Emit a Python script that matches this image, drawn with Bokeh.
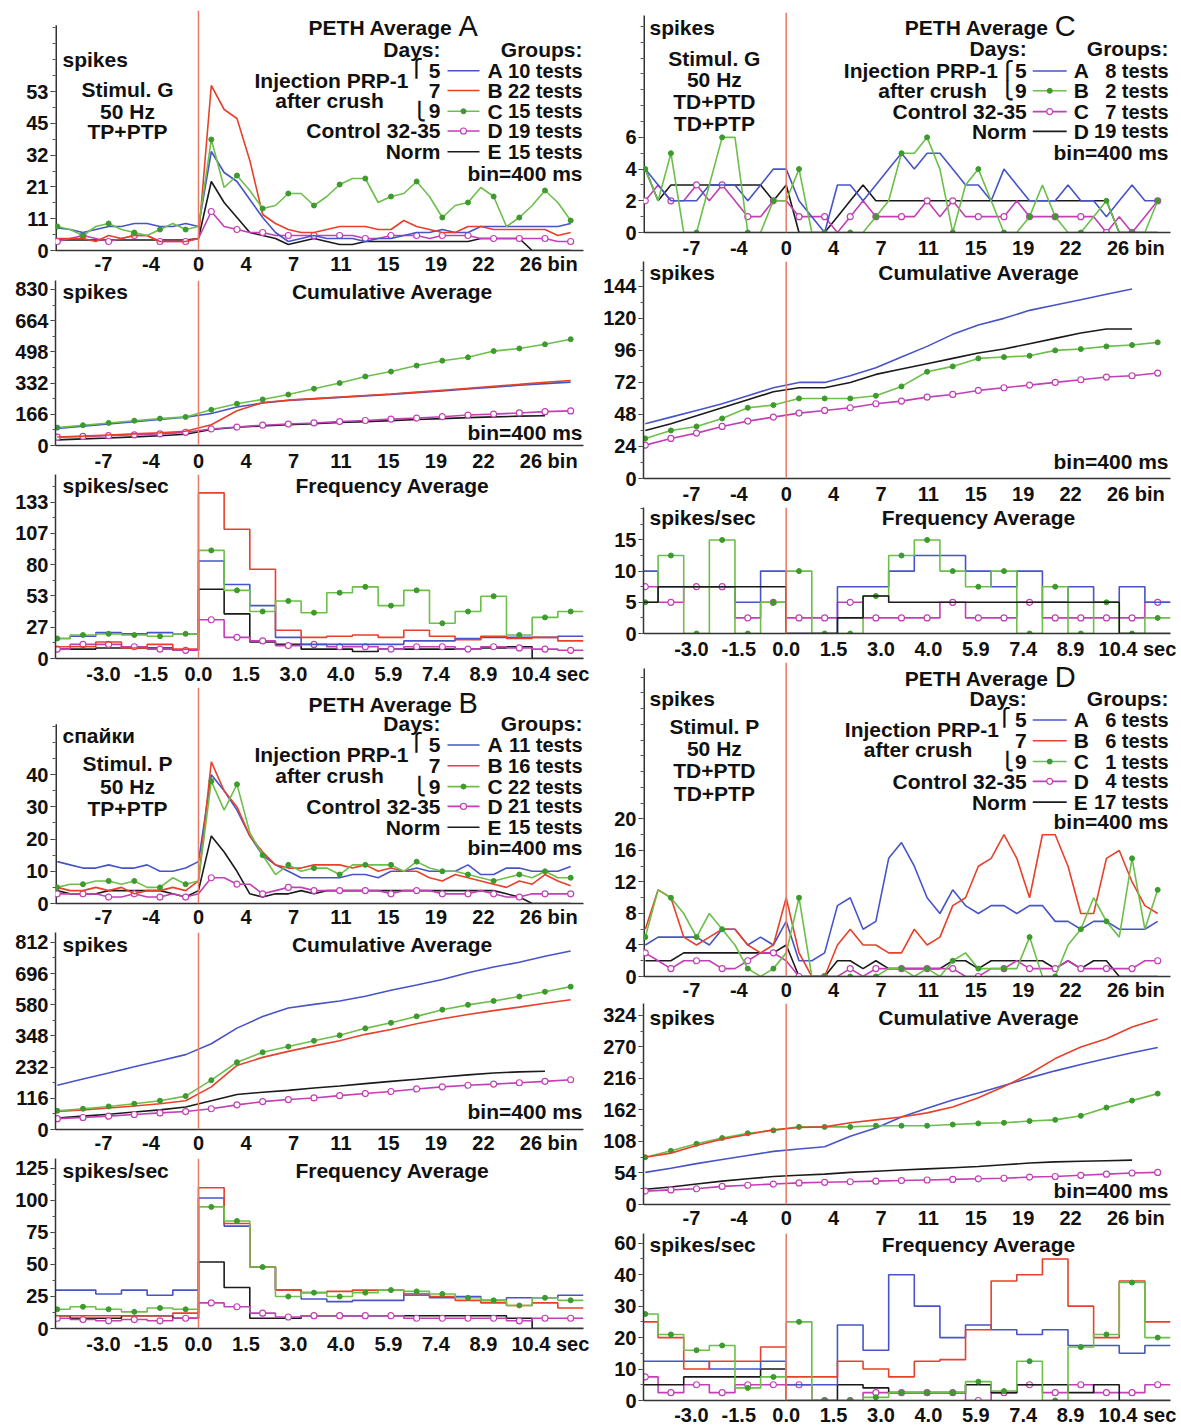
import numpy as np
from bokeh.plotting import figure
from bokeh.layouts import row, column
from bokeh.models import Span, Label, FixedTicker, Range1d
from bokeh.embed import file_html
from bokeh.resources import INLINE

FONT = "Liberation Sans"
BLUE = "#4654c8"
RED = "#e8402a"
GREEN = "#6cbf4a"
GREEN_DOT = "#3d9a2c"
MAGENTA = "#c23fb5"
BLACK = "#1a1a1a"
ZERO = "#e87a66"
LW = 1.6

# ---------------- axes / categories ----------------
PETH_BINS = list(range(-11, 30))          # one point per 400 ms bin
CUM_BINS = list(range(-11, 30, 2))        # cumulative curves sampled every 2 bins
FREQ_EDGES = list(range(-12, 31, 2))      # frequency steps, 2 bins wide
X_TICKS = [-7.4, -3.7, 0.0, 3.7, 7.4, 11.1, 14.8, 18.5, 22.2, 25.9]
BIN_LABELS = ["-7", "-4", "0", "4", "7", "11", "15", "19", "22", "26 bin"]
SEC_LABELS = ["-3.0", "-1.5", "0.0", "1.5", "3.0", "4.0", "5.9", "7.4", "8.9", "10.4 sec"]
# the unit word is part of the last label: shift that label so its number stays on the tick
UNIT_SHIFT = {"bin": 1.39, "sec": 1.52}

# ---------------- Panel A ----------------
A_PETH_BLUE = [7.5, 7, 6, 7, 8, 8, 9, 9, 8, 8, 9, 8,
               33, 26, 23, 17, 11, 6, 3, 4, 5, 4, 4, 4, 3, 4, 4, 5, 6, 6, 7, 6, 6, 8, 8, 8, 8, 8, 8, 8, 9]
A_PETH_RED = [4, 4, 4, 3, 5, 4, 5, 5, 3, 3, 3, 4,
              55, 47, 44, 30, 12, 9, 7, 6, 6, 7, 8, 8, 8, 7, 7, 10, 8, 7, 6, 6, 8, 8, 7, 7, 7, 7, 7, 5, 6]
A_PETH_GREEN = [8, 7, 5, 8, 9, 7, 6, 5, 7, 9, 7, 8,
                37, 21, 25, 20, 14, 15, 19, 19, 15, 18, 22, 24, 24, 16, 18, 19, 23, 18, 11, 15, 16, 21, 18, 8, 11, 15, 20, 16, 10]
A_PETH_MAGENTA = [3, 4, 5, 4, 3, 4, 5, 5, 3, 3, 3, 4,
                  13, 8, 7, 6, 6, 5, 5, 5, 5, 5, 5, 5, 4, 4, 5, 5, 5, 4, 5, 5, 5, 4, 4, 4, 4, 4, 4, 3, 3]
A_PETH_BLACK = [3.5, 3.5, 3.5, 3.5, 3.5, 3.5, 3.5, 3.5, 3.5, 3.5, 3.5, 4,
                23, 16, 11, 6, 5, 4, 2, 3, 4, 3, 2, 2, 3, 3, 3, 3, 3, 3, 3, 3, 3, 4, 4, 4, 4, 0, 0, 0, 0]

A_CUM_BLUE = [90, 103, 115, 127, 139, 150, 170, 205, 226, 240, 248, 256, 264, 272, 281, 290, 300, 310, 320, 329, 337]
A_CUM_RED = [45, 50, 56, 62, 68, 76, 110, 185, 228, 241, 249, 257, 266, 274, 284, 294, 304, 315, 325, 336, 346]
A_CUM_GREEN = [95, 108, 120, 132, 143, 152, 190, 222, 245, 271, 302, 332, 367, 393, 425, 451, 469, 502, 516, 538, 565]
A_CUM_MAGENTA = [44, 48, 52, 57, 62, 70, 88, 98, 108, 114, 120, 127, 133, 140, 146, 153, 162, 167, 173, 180, 184]
A_CUM_BLACK = [30, 35, 40, 46, 52, 60, 85, 97, 104, 110, 116, 122, 127, 132, 138, 143, 148, 152, 156, 158, np.nan]

A_FREQ_BLUE = [17, 19, 22, 21, 22, 21, 83, 63, 45, 18, 12, 12, 12, 12, 15, 15, 17, 18, 18, 18, 19]
A_FREQ_RED = [10, 10, 14, 9, 12, 8, 141, 110, 76, 24, 18, 19, 20, 18, 24, 19, 16, 19, 17, 18, 15]
A_FREQ_GREEN = [17, 20, 21, 20, 19, 21, 92, 58, 40, 49, 39, 56, 61, 45, 58, 30, 40, 53, 20, 35, 40]
A_FREQ_MAGENTA = [8, 12, 12, 10, 8, 7, 33, 18, 15, 11, 12, 10, 10, 8, 10, 10, 8, 10, 9, 8, 7]
A_FREQ_BLACK = [8, 8, 9, 9, 9, 7, 59, 38, 14, 12, 8, 8, 6, 8, 8, 8, 8, 9, 10, 0, 0]

# ---------------- Panel B ----------------
B_PETH_BLUE = [13, 12, 11, 11, 12, 11, 11, 12, 10, 10, 11, 13,
               40, 35, 29, 21, 15, 12, 10, 8, 8, 8, 8, 9, 9, 8, 10, 10, 11, 10, 10, 10, 12, 9, 9, 11, 11, 10, 10, 10, 11.5]
B_PETH_RED = [5, 4, 4, 5, 4, 5, 3, 4, 4, 5, 4, 7,
              44, 35, 30, 21, 16, 12, 11, 11, 12, 12, 12, 11, 12, 10, 11, 10, 10, 8, 7, 9, 8, 7, 6, 5, 7, 6, 9, 7, 5.5]
B_PETH_GREEN = [5, 6, 6, 7, 7, 6, 7, 5, 5, 8, 6, 7,
                38, 29, 37, 22, 15, 9, 12, 10, 11, 11, 9, 12, 12, 12, 12, 10, 13, 11, 10, 10, 9, 8, 7, 8, 9, 8, 10, 8, 8]
B_PETH_MAGENTA = [3, 3, 3, 3, 2, 2, 3, 2, 2, 3, 2, 3,
                  8, 8, 6, 6, 3, 4, 5, 5, 4, 4, 4, 4, 4, 4, 3, 4, 4, 4, 3, 3, 3, 4, 3, 2, 2, 3, 3, 3, 3]
B_PETH_BLACK = [4, 3, 3, 3, 4, 4, 4, 4, 4, 3, 2, 4,
                21, 16, 10, 3, 2, 3, 3, 4, 3, 4, 4, 4, 4, 4, 4, 4, 4, 4, 4, 4, 4, 4, 4, 3, 2, 0, 0, 0, 0]

B_CUM_BLUE = [192, 219, 245, 272, 298, 325, 372, 440, 490, 527, 543, 558, 578, 604, 627, 651, 680, 705, 726, 752, 775]
B_CUM_RED = [78, 85, 93, 102, 112, 125, 185, 278, 313, 339, 363, 385, 413, 434, 459, 481, 499, 516, 531, 548, 563]
B_CUM_GREEN = [81, 90, 100, 112, 125, 145, 214, 292, 335, 360, 385, 409, 439, 463, 491, 520, 541, 558, 577, 598, 620]
B_CUM_MAGENTA = [47, 52, 58, 65, 72, 78, 90, 107, 121, 130, 137, 147, 156, 165, 176, 185, 192, 197, 203, 209, 216]
B_CUM_BLACK = [50, 58, 66, 76, 85, 98, 125, 152, 162, 170, 180, 189, 199, 209, 218, 228, 237, 245, 250, 253, np.nan]

B_FREQ_BLUE = [30, 30, 27, 30, 26, 30, 102, 80, 48, 30, 23, 21, 22, 22, 27, 24, 25, 22, 24, 24, 26]
B_FREQ_RED = [10, 10, 10, 10, 10, 12, 110, 82, 48, 30, 28, 29, 30, 30, 26, 25, 22, 20, 18, 20, 16]
B_FREQ_GREEN = [15, 17, 15, 13, 16, 15, 95, 84, 48, 25, 28, 25, 28, 30, 29, 27, 24, 22, 18, 24, 22]
B_FREQ_MAGENTA = [8, 7, 6, 7, 6, 8, 20, 17, 12, 9, 10, 10, 10, 10, 8, 8, 8, 8, 6, 8, 8]
B_FREQ_BLACK = [10, 8, 8, 10, 10, 8, 52, 32, 8, 8, 10, 10, 10, 10, 10, 10, 10, 10, 8, 0, 0]

# ---------------- Panel C ----------------
C_PETH_BLUE = [4, 3, 2, 2, 2, 3, 3, 3, 2, 3, 4, 4,
               2, 1, 0, 3, 3, 2, 3, 4, 5, 4, 5, 5, 4, 3, 3, 2, 4, 3, 2, 2, 2, 3, 2, 2, 1, 2, 3, 2, 2]
C_PETH_GREEN = [4, 2, 5, 0, 0, 3, 6, 6, 0, 0, 2, 2,
                4, 0, 0, 0, 0, 0, 1, 2, 5, 5, 6, 4, 0, 3, 4, 2, 0, 0, 1, 3, 1, 0, 0, 1, 2, 0, 0, 0, 2]
C_PETH_MAGENTA = [2, 3, 2, 2, 3, 2, 3, 2, 1, 1, 2, 2,
                  1, 1, 1, 0, 1, 2, 1, 1, 1, 1, 2, 1, 2, 1, 1, 1, 1, 2, 1, 1, 1, 1, 1, 1, 0, 1, 0, 1, 2]
C_PETH_BLACK = [4, 2, 3, 3, 3, 3, 3, 3, 3, 3, 2, 3,
                0, 0, 0, 1, 2, 3, 2, 2, 2, 2, 2, 2, 2, 2, 2, 2, 2, 2, 2, 2, 2, 2, 2, 2, 2, 0, 0, 0, 0]

C_CUM_BLUE = [41, 46, 51, 56, 62, 68, 72, 72, 77, 83, 91, 99, 108, 115, 120, 126, 130, 134, 138, 142, np.nan]
C_CUM_GREEN = [30, 36, 39, 45, 53, 55, 60, 60, 60, 62, 69, 80, 84, 90, 91, 92, 96, 97, 99, 100, 102]
C_CUM_MAGENTA = [25, 30, 34, 39, 43, 46, 49, 51, 53, 56, 58, 61, 63, 66, 68, 70, 72, 74, 76, 77, 79]
C_CUM_BLACK = [36, 41, 47, 53, 59, 65, 68, 68, 72, 78, 82, 86, 90, 94, 97, 101, 105, 109, 112, 112, np.nan]

C_FREQ_BLUE = [10, 7.5, 7.5, 7.5, 5, 10, 0, 0, 7.5, 7.5, 10, 12.5, 12.5, 10, 7.5, 10, 5, 7.5, 5, 7.5, 5]
C_FREQ_GREEN = [5, 12.5, 0, 15, 0, 5, 10, 0, 0, 6, 12.5, 15, 10, 7.5, 10, 0, 7.5, 0, 5, 0, 2.5]
C_FREQ_MAGENTA = [7.5, 5, 7.5, 7.5, 2.5, 5, 2.5, 2.5, 5, 2.5, 2.5, 2.5, 5, 2.5, 2.5, 5, 2.5, 2.5, 2.5, 2.5, 5]
C_FREQ_BLACK = [5, 7.5, 7.5, 7.5, 7.5, 7.5, 0, 0, 2.5, 6, 5, 5, 5, 5, 5, 5, 5, 5, 5, 0, 0]

# ---------------- Panel D ----------------
D_PETH_BLUE = [4, 5, 5, 5, 5, 4, 6, 6, 4, 5, 4, 7,
               2, 2, 3, 9, 10, 6, 7, 15, 17, 14, 10, 8, 11, 9, 8, 9, 9, 8, 9, 9, 7, 7, 6, 7, 7, 6, 6, 6, 7]
D_PETH_RED = [6, 11, 10, 5, 4, 5, 6, 6, 4, 3, 4, 10,
              3, 0, 0, 4, 6, 4, 4, 3, 3, 6, 4, 5, 9, 10, 14, 15, 18, 15, 10, 18, 18, 14, 8, 8, 15, 16, 12, 9, 8]
D_PETH_GREEN = [5, 11, 10, 8, 5, 8, 6, 4, 1, 0, 1, 3,
                10, 0, 0, 0, 0, 0, 0, 1, 1, 0, 1, 0, 2, 3, 1, 1, 1, 1, 5, 0, 0, 4, 6, 10, 7, 5, 15, 6, 11]
D_PETH_MAGENTA = [3, 2, 1, 2, 2, 2, 1, 1, 2, 3, 3, 2,
                  0, 0, 0, 0, 1, 0, 1, 1, 1, 1, 1, 1, 1, 0, 0, 1, 1, 2, 1, 1, 1, 2, 1, 1, 1, 1, 1, 2, 2]
D_PETH_BLACK = [2, 2, 2, 3, 3, 3, 3, 3, 3, 3, 3, 4,
                0, 0, 0, 2, 2, 1, 2, 1, 1, 1, 1, 1, 2, 2, 1, 2, 2, 2, 2, 2, 1, 2, 1, 2, 2, 0, 0, 0, 0]

D_CUM_BLUE = [55, 62, 70, 77, 84, 91, 95, 99, 117, 131, 150, 165, 179, 191, 204, 217, 229, 240, 250, 260, 269]
D_CUM_RED = [81, 88, 101, 112, 120, 128, 132, 133, 140, 145, 150, 157, 167, 183, 202, 224, 250, 270, 284, 304, 318]
D_CUM_GREEN = [81, 92, 104, 114, 122, 127, 133, 133, 133, 135, 135, 135, 137, 139, 140, 143, 145, 152, 166, 178, 190]
D_CUM_MAGENTA = [23, 25, 27, 31, 33, 35, 37, 38, 39, 40, 41, 42, 43, 44, 45, 47, 48, 50, 52, 54, 55]
D_CUM_BLACK = [26, 30, 35, 40, 44, 48, 50, 52, 55, 57, 59, 61, 63, 65, 68, 71, 73, 74, 75, 76, np.nan]

D_FREQ_BLUE = [12.5, 12.5, 12.5, 10, 10, 12.5, 5, 5, 24, 16, 40, 30, 20, 24, 22.5, 21, 22.5, 17.5, 17.5, 15, 17.5]
D_FREQ_RED = [25, 20, 10, 12.5, 12.5, 17, 7.5, 7.5, 12.5, 10, 7.5, 12.5, 13, 22.5, 38, 40, 45, 30, 20, 38, 25]
D_FREQ_GREEN = [27.5, 21, 16, 17.5, 4, 7.5, 25, 0, 0, 1, 2.5, 2.5, 2.5, 6, 3, 12.5, 0, 17, 21, 37.5, 20]
D_FREQ_MAGENTA = [7.5, 2.5, 5, 2.5, 5, 5, 5, 0, 0, 2.5, 2.5, 2.5, 2.5, 0, 2.5, 5, 2.5, 5, 2.5, 2.5, 5]
D_FREQ_BLACK = [5, 5, 7.5, 7.5, 7.5, 10, 0, 0, 5, 4, 2.5, 2.5, 2.5, 5, 2.5, 5, 5, 2.5, 5, 0, 0]

# y tick labels (as printed on the original axes)
A_PETH_YLABELS = ["0", "11", "21", "32", "45", "53"]
A_CUM_YLABELS = ["0", "166", "332", "498", "664", "830"]
A_FREQ_YLABELS = ["0", "27", "53", "80", "107", "133"]
B_PETH_YLABELS = ["0", "10", "20", "30", "40"]
B_CUM_YLABELS = ["0", "116", "232", "348", "580", "696", "812"]
B_FREQ_YLABELS = ["0", "25", "50", "75", "100", "125"]
C_PETH_YLABELS = ["0", "2", "4", "6"]
C_CUM_YLABELS = ["0", "24", "48", "72", "96", "120", "144"]
C_FREQ_YLABELS = ["0", "5", "10", "15"]
D_PETH_YLABELS = ["0", "4", "8", "12", "16", "20"]
D_CUM_YLABELS = ["0", "54", "108", "162", "216", "270", "324"]
D_FREQ_YLABELS = ["0", "10", "20", "30", "40", "60"]

# ---------------- layout constants ----------------
XMIN, XMAX = -11.14, 30.0
FRAME_W = 528
LEFT = dict(x0=0, width=600, bl=55, br=17)
RIGHT = dict(x0=600, width=581, bl=42, br=11)


def conv(g, px, py):
    x = XMIN + (px - g["fl"]) / FRAME_W * (XMAX - XMIN)
    y = (g["fb"] - py) / g["fh"] * g["ymax"]
    return x, y


def txt(p, g, px, py, text, align="left", size="21px", style="bold", baseline="middle"):
    x, y = conv(g, px, py)
    p.add_layout(Label(x=x, y=y, text=text, text_align=align, text_baseline=baseline,
                       text_font=FONT, text_font_size=size, text_font_style=style,
                       text_color="#111111"))


def make_fig(col, top, height, bt, bb, ymax, yticks, ylabels, unit, axis_top=None, standoff=4):
    p = figure(width=col["width"], height=height, x_range=Range1d(XMIN, XMAX),
               y_range=Range1d(0, ymax), output_backend="svg", toolbar_location=None,
               min_border_left=col["bl"], min_border_right=col["br"],
               min_border_top=bt, min_border_bottom=bb)
    p.outline_line_color = None
    p.xgrid.visible = False
    p.ygrid.visible = False
    p.background_fill_color = "white"
    p.border_fill_color = "white"
    g = dict(fl=col["x0"] + col["bl"], fb=top + height - bb, fh=height - bt - bb, ymax=ymax)
    ytop = ymax if axis_top is None else conv(g, 0, axis_top)[1]
    step = yticks[1] - yticks[0]
    minor = [step / 2 * k for k in range(int(ytop / (step / 2)) + 1)]
    p.yaxis.ticker = FixedTicker(ticks=yticks, minor_ticks=minor)
    p.yaxis.major_label_overrides = {t: l for t, l in zip(yticks, ylabels)}
    xticks = X_TICKS[:-1] + [X_TICKS[-1] + UNIT_SHIFT[unit]]
    xlabels = BIN_LABELS if unit == "bin" else SEC_LABELS
    p.xaxis.ticker = FixedTicker(ticks=xticks)
    p.xaxis.major_label_overrides = {t: l for t, l in zip(xticks, xlabels)}
    for ax in (p.xaxis, p.yaxis):
        ax.axis_line_color = "#333333"
        ax.axis_line_width = 1.5
        ax.major_label_text_font = FONT
        ax.major_label_text_font_style = "bold"
        ax.major_label_text_font_size = "20px"
        ax.major_label_text_color = "#111111"
        ax.major_tick_in = 0
        ax.minor_tick_in = 0
        ax.major_tick_line_color = "#333333"
        ax.minor_tick_line_color = "#555555"
    p.xaxis.major_tick_out = 0
    p.xaxis.minor_tick_out = 0
    p.xaxis.major_label_standoff = standoff
    p.yaxis.major_tick_out = 5
    p.yaxis.minor_tick_out = 3
    p.yaxis.major_label_standoff = 2
    if axis_top is not None:
        # the original's y axis line stops below the panel title
        p.yaxis.axis_line_color = None
        p.segment(x0=[XMIN], y0=[0], x1=[XMIN], y1=[ytop], line_color="#333333", line_width=3)
    p.add_layout(Span(location=0, dimension="height", line_color=ZERO, line_width=1.5))
    return p, g


def marks(p, xs, ys, mk, color):
    if mk == "dot":
        p.scatter(xs, ys, marker="circle", size=5, fill_color=GREEN_DOT, line_color=GREEN_DOT)
    elif mk == "ring":
        p.scatter(xs, ys, marker="circle", size=6, fill_color="white", line_color=color, line_width=1.2)


def draw_peth(p, series):
    for vals, color, mk in series:
        v = np.array(vals, dtype=float)
        p.line(PETH_BINS, v, line_color=color, line_width=LW)
        if mk:
            marks(p, PETH_BINS[::2], v[::2], mk, color)


def draw_cum(p, series):
    for vals, color, mk in series:
        v = np.array(vals, dtype=float)
        p.line(CUM_BINS, v, line_color=color, line_width=LW)
        if mk:
            marks(p, CUM_BINS, v, mk, color)


def draw_freq(p, series):
    for vals, color, mk in series:
        v = list(vals) + [vals[-1]]
        p.step(FREQ_EDGES, v, mode="after", line_color=color, line_width=LW)
        if mk:
            marks(p, CUM_BINS, np.array(vals, dtype=float), mk, color)


def legend(p, g, rows_y, styles, letters, counts, x_line0, x_line1, x_letter, x_count):
    for y, (color, mk), let, cnt in zip(rows_y, styles, letters, counts):
        x0, yy = conv(g, x_line0, y)
        x1, _ = conv(g, x_line1, y)
        p.segment(x0=[x0], y0=[yy], x1=[x1], y1=[yy], line_color=color, line_width=LW)
        if mk:
            marks(p, [(x0 + x1) / 2], [yy], mk, color)
        txt(p, g, x_letter, y, let, "left")
        txt(p, g, x_count, y, cnt, "right", size="20px")


STY5 = [(BLUE, None), (RED, None), (GREEN, "dot"), (MAGENTA, "ring"), (BLACK, None)]
STY4 = [(BLUE, None), (GREEN, "dot"), (MAGENTA, "ring"), (BLACK, None)]

# ======================= LEFT COLUMN =======================
# ---- A: PETH ----
pA1, g = make_fig(LEFT, 0, 277, 10, 24, 80.0, [k * 10.6 for k in range(6)], A_PETH_YLABELS, "bin",
                  axis_top=25, standoff=2)
draw_peth(pA1, [(A_PETH_BLACK, BLACK, None), (A_PETH_MAGENTA, MAGENTA, "ring"), (A_PETH_BLUE, BLUE, None),
                (A_PETH_RED, RED, None), (A_PETH_GREEN, GREEN, "dot")])
txt(pA1, g, 62, 60, "spikes")
for yy, t in zip([90, 112, 133], ["Stimul. G", "50 Hz", "TP+PTP"]):
    txt(pA1, g, 127, yy, t, "center")
txt(pA1, g, 452, 27, "PETH Average", "right")
txt(pA1, g, 458, 26, "A", "left", size="29px", style="normal")
txt(pA1, g, 440, 49, "Days:", "right")
txt(pA1, g, 582, 49, "Groups:", "right")
rows = [71, 91, 112, 132, 153]
for yy, t in zip(rows, ["5", "7", "9", "Control 32-35", "Norm"]):
    txt(pA1, g, 440, yy, t, "right")
txt(pA1, g, 416, rows[0] - 2, "⎧", "center", size="17px")
txt(pA1, g, 419, rows[2], "⎩", "center", size="17px")
txt(pA1, g, 408, 81, "Injection PRP-1", "right")
txt(pA1, g, 329, 101, "after crush", "center")
legend(pA1, g, rows, STY5, ["A", "B", "C", "D", "E"], ["10 tests", "22 tests", "15 tests", "19 tests", "15 tests"],
       447, 479, 487, 582)
txt(pA1, g, 582, 175, "bin=400 ms", "right")

# ---- A: cumulative ----
pA2, g = make_fig(LEFT, 277, 197, 3, 27, 877.3, [k * 166 for k in range(6)], A_CUM_YLABELS, "bin")
draw_cum(pA2, [(A_CUM_BLACK, BLACK, None), (A_CUM_MAGENTA, MAGENTA, "ring"), (A_CUM_BLUE, BLUE, None),
               (A_CUM_RED, RED, None), (A_CUM_GREEN, GREEN, "dot")])
txt(pA2, g, 62, 291, "spikes")
txt(pA2, g, 392, 291, "Cumulative Average", "center")
txt(pA2, g, 582, 434, "bin=400 ms", "right")

# ---- A: frequency ----
pA3, g = make_fig(LEFT, 474, 213, 0, 27, 156.6, [k * 26.6 for k in range(6)], A_FREQ_YLABELS, "sec")
draw_freq(pA3, [(A_FREQ_BLACK, BLACK, None), (A_FREQ_MAGENTA, MAGENTA, "ring"), (A_FREQ_BLUE, BLUE, None),
                (A_FREQ_RED, RED, None), (A_FREQ_GREEN, GREEN, "dot")])
txt(pA3, g, 62, 485, "spikes/sec")
txt(pA3, g, 392, 485, "Frequency Average", "center")

# ---- B: PETH ----
pB1, g = make_fig(LEFT, 687, 243, 0, 25, 67.08, [0, 10, 20, 30, 40], B_PETH_YLABELS, "bin",
                  axis_top=724, standoff=2)
draw_peth(pB1, [(B_PETH_BLACK, BLACK, None), (B_PETH_MAGENTA, MAGENTA, "ring"), (B_PETH_BLUE, BLUE, None),
                (B_PETH_RED, RED, None), (B_PETH_GREEN, GREEN, "dot")])
txt(pB1, g, 62, 735, "спайки")
for yy, t in zip([764, 787, 809], ["Stimul. P", "50 Hz", "TP+PTP"]):
    txt(pB1, g, 127, yy, t, "center")
txt(pB1, g, 452, 704, "PETH Average", "right")
txt(pB1, g, 458, 703, "B", "left", size="29px", style="normal")
txt(pB1, g, 440, 723, "Days:", "right")
txt(pB1, g, 582, 723, "Groups:", "right")
rows = [745, 766, 787, 807, 828]
for yy, t in zip(rows, ["5", "7", "9", "Control 32-35", "Norm"]):
    txt(pB1, g, 440, yy, t, "right")
txt(pB1, g, 416, rows[0] - 2, "⎧", "center", size="17px")
txt(pB1, g, 419, rows[2], "⎩", "center", size="17px")
txt(pB1, g, 408, 755, "Injection PRP-1", "right")
txt(pB1, g, 329, 776, "after crush", "center")
legend(pB1, g, rows, STY5, ["A", "B", "C", "D", "E"], ["11 tests", "16 tests", "22 tests", "21 tests", "15 tests"],
       447, 479, 487, 582)
txt(pB1, g, 582, 848, "bin=400 ms", "right")

# ---- B: cumulative ----
pB2, g = make_fig(LEFT, 930, 226, 2, 25, 855.0, [k * 812 / 6 for k in range(7)], B_CUM_YLABELS, "bin",
                  standoff=2)
draw_cum(pB2, [(B_CUM_BLACK, BLACK, None), (B_CUM_MAGENTA, MAGENTA, "ring"), (B_CUM_BLUE, BLUE, None),
               (B_CUM_RED, RED, None), (B_CUM_GREEN, GREEN, "dot")])
txt(pB2, g, 62, 944, "spikes")
txt(pB2, g, 392, 944, "Cumulative Average", "center")
txt(pB2, g, 582, 1113, "bin=400 ms", "right")

# ---- B: frequency ----
pB3, g = make_fig(LEFT, 1156, 272, 2, 100, 132.8, [0, 25, 50, 75, 100, 125], B_FREQ_YLABELS, "sec")
draw_freq(pB3, [(B_FREQ_BLACK, BLACK, None), (B_FREQ_MAGENTA, MAGENTA, "ring"), (B_FREQ_BLUE, BLUE, None),
                (B_FREQ_RED, RED, None), (B_FREQ_GREEN, GREEN, "dot")])
txt(pB3, g, 62, 1170, "spikes/sec")
txt(pB3, g, 392, 1170, "Frequency Average", "center")

# ======================= RIGHT COLUMN =======================
# ---- C: PETH ----
pC1, g = make_fig(RIGHT, 0, 261, 12, 27, 13.875, [0, 2, 4, 6], C_PETH_YLABELS, "bin", axis_top=15)
draw_peth(pC1, [(C_PETH_BLACK, BLACK, None), (C_PETH_MAGENTA, MAGENTA, "ring"), (C_PETH_BLUE, BLUE, None),
                (C_PETH_GREEN, GREEN, "dot")])
txt(pC1, g, 648, 27, "spikes")
for yy, t in zip([58, 80, 102, 124], ["Stimul. G", "50 Hz", "TD+PTD", "TD+PTP"]):
    txt(pC1, g, 713, yy, t, "center")
txt(pC1, g, 1048, 27, "PETH Average", "right")
txt(pC1, g, 1054, 26, "C", "left", size="29px", style="normal")
txt(pC1, g, 1026, 48, "Days:", "right")
txt(pC1, g, 1168, 48, "Groups:", "right")
rows = [71, 91, 112, 132]
txt(pC1, g, 997, rows[0], "Injection PRP-1", "right")
txt(pC1, g, 1007, rows[0], "⎧", "center", size="17px")
txt(pC1, g, 1026, rows[0], "5", "right")
txt(pC1, g, 986, rows[1], "after crush", "right")
txt(pC1, g, 1007, rows[1], "⎩", "center", size="17px")
txt(pC1, g, 1026, rows[1], "9", "right")
txt(pC1, g, 1026, rows[2], "Control 32-35", "right")
txt(pC1, g, 1026, rows[3], "Norm", "right")
legend(pC1, g, rows, STY4, ["A", "B", "C", "D"], ["8 tests", "2 tests", "7 tests", "19 tests"],
       1032, 1066, 1073, 1168)
txt(pC1, g, 1168, 153, "bin=400 ms", "right")

# ---- C: cumulative ----
pC2, g = make_fig(RIGHT, 261, 246, 0, 27, 162.6, [0, 24, 48, 72, 96, 120, 144], C_CUM_YLABELS, "bin")
draw_cum(pC2, [(C_CUM_MAGENTA, MAGENTA, "ring"), (C_CUM_GREEN, GREEN, "dot"), (C_CUM_BLACK, BLACK, None),
               (C_CUM_BLUE, BLUE, None)])
txt(pC2, g, 648, 272, "spikes")
txt(pC2, g, 978, 272, "Cumulative Average", "center")
txt(pC2, g, 1168, 463, "bin=400 ms", "right")

# ---- C: frequency ----
pC3, g = make_fig(RIGHT, 507, 155, 0, 27, 20.2, [0, 5, 10, 15], C_FREQ_YLABELS, "sec")
draw_freq(pC3, [(C_FREQ_MAGENTA, MAGENTA, "ring"), (C_FREQ_BLUE, BLUE, None), (C_FREQ_GREEN, GREEN, "dot"),
                (C_FREQ_BLACK, BLACK, None)])
txt(pC3, g, 648, 517, "spikes/sec")
txt(pC3, g, 978, 517, "Frequency Average", "center")

# ---- D: PETH ----
pD1, g = make_fig(RIGHT, 662, 341, 0, 24, 39.87, [0, 4, 8, 12, 16, 20], D_PETH_YLABELS, "bin",
                  axis_top=668, standoff=2)
draw_peth(pD1, [(D_PETH_BLACK, BLACK, None), (D_PETH_MAGENTA, MAGENTA, "ring"), (D_PETH_BLUE, BLUE, None),
                (D_PETH_RED, RED, None), (D_PETH_GREEN, GREEN, "dot")])
txt(pD1, g, 1048, 678, "PETH Average", "right")
txt(pD1, g, 1054, 677, "D", "left", size="29px", style="normal")
txt(pD1, g, 648, 698, "spikes")
for yy, t in zip([727, 749, 771, 794], ["Stimul. P", "50 Hz", "TD+PTD", "TD+PTP"]):
    txt(pD1, g, 713, yy, t, "center")
txt(pD1, g, 1026, 698, "Days:", "right")
txt(pD1, g, 1168, 698, "Groups:", "right")
rows = [720, 741, 762, 782, 803]
for yy, t in zip(rows, ["5", "7", "9", "Control 32-35", "Norm"]):
    txt(pD1, g, 1026, yy, t, "right")
txt(pD1, g, 1004, rows[0] - 2, "⎧", "center", size="17px")
txt(pD1, g, 1007, rows[2], "⎩", "center", size="17px")
txt(pD1, g, 998, 730, "Injection PRP-1", "right")
txt(pD1, g, 917, 750, "after crush", "center")
legend(pD1, g, rows, STY5, ["A", "B", "C", "D", "E"], ["6 tests", "6 tests", "1 tests", "4 tests", "17 tests"],
       1032, 1066, 1073, 1168)
txt(pD1, g, 1168, 823, "bin=400 ms", "right")

# ---- D: cumulative ----
pD2, g = make_fig(RIGHT, 1003, 228, 0, 25, 344.4, [0, 54, 108, 162, 216, 270, 324], D_CUM_YLABELS, "bin",
                  standoff=2)
draw_cum(pD2, [(D_CUM_BLACK, BLACK, None), (D_CUM_MAGENTA, MAGENTA, "ring"), (D_CUM_BLUE, BLUE, None),
               (D_CUM_GREEN, GREEN, "dot"), (D_CUM_RED, RED, None)])
txt(pD2, g, 648, 1017, "spikes")
txt(pD2, g, 978, 1017, "Cumulative Average", "center")
txt(pD2, g, 1168, 1192, "bin=400 ms", "right")

# ---- D: frequency ----
pD3, g = make_fig(RIGHT, 1231, 197, 2, 26, 53.1, [0, 10, 20, 30, 40, 50], D_FREQ_YLABELS, "sec", standoff=3)
draw_freq(pD3, [(D_FREQ_MAGENTA, MAGENTA, "ring"), (D_FREQ_BLACK, BLACK, None), (D_FREQ_BLUE, BLUE, None),
                (D_FREQ_RED, RED, None), (D_FREQ_GREEN, GREEN, "dot")])
txt(pD3, g, 648, 1244, "spikes/sec")
txt(pD3, g, 978, 1244, "Frequency Average", "center")

left = column(pA1, pA2, pA3, pB1, pB2, pB3, spacing=0)
right = column(pC1, pC2, pC3, pD1, pD2, pD3, spacing=0)
layout = row(left, right, spacing=0)

open("out.html", "w").write(file_html(layout, INLINE))
